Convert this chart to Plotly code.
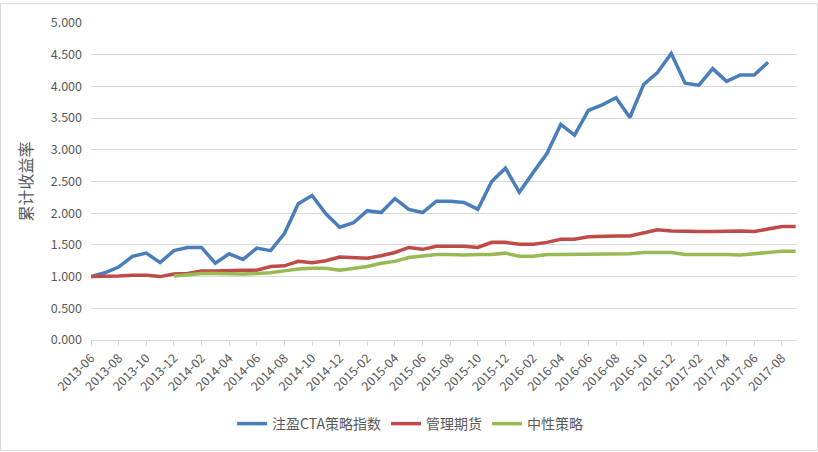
import plotly.graph_objects as go

# Monthly categories 2013-06 .. 2017-09
months = []
y, m = 2013, 6
while (y, m) <= (2017, 9):
    months.append(f"{y}-{m:02d}")
    m += 1
    if m > 12:
        m = 1
        y += 1

tick_labels = months[::2]

series_names = ["注盈CTA策略指数", "管理期货", "中性策略"]

cta_index = [1.00, 1.06, 1.15, 1.32, 1.37, 1.22, 1.41, 1.46, 1.46, 1.21,
             1.36, 1.27, 1.45, 1.41, 1.68, 2.15, 2.28, 1.99, 1.78, 1.85,
             2.04, 2.01, 2.23, 2.06, 2.01, 2.19, 2.19, 2.17, 2.06, 2.50,
             2.71, 2.33, 2.64, 2.94, 3.40, 3.23, 3.62, 3.71, 3.82, 3.51,
             4.03, 4.22, 4.52, 4.05, 4.02, 4.28, 4.08, 4.18, 4.18, 4.38,
             None, None]

managed_futures = [1.00, 1.00, 1.01, 1.02, 1.02, 1.00, 1.04, 1.05, 1.09, 1.09,
                   1.10, 1.10, 1.10, 1.16, 1.17, 1.24, 1.22, 1.25, 1.31, 1.30,
                   1.29, 1.33, 1.38, 1.46, 1.43, 1.48, 1.48, 1.48, 1.46, 1.54,
                   1.54, 1.51, 1.51, 1.54, 1.59, 1.59, 1.63, 1.64, 1.64, 1.64,
                   1.69, 1.74, 1.72, 1.71, 1.71, 1.71, 1.72, 1.72, 1.71, 1.75,
                   1.79, 1.79]

neutral = [None, None, None, None, None, None,
           1.01, 1.03, 1.05, 1.05, 1.04, 1.04, 1.05, 1.06, 1.09, 1.12,
           1.13, 1.13, 1.10, 1.13, 1.16, 1.21, 1.24, 1.30, 1.33, 1.35,
           1.35, 1.34, 1.35, 1.35, 1.37, 1.32, 1.32, 1.35, 1.35, 1.35,
           1.35, 1.36, 1.36, 1.36, 1.38, 1.38, 1.38, 1.35, 1.35, 1.36,
           1.35, 1.34, 1.36, 1.38, 1.40, 1.40]

colors = ["#4A7EBB", "#BE4B48", "#98B954"]

fig = go.Figure()
for name, vals, c in zip(series_names, [cta_index, managed_futures, neutral], colors):
    fig.add_trace(go.Scatter(x=months, y=vals, name=name, mode="lines",
                             line=dict(color=c, width=3.5), connectgaps=False))

font_family = "Noto Sans CJK SC, Noto Sans, sans-serif"

fig.update_layout(
    width=818, height=452,
    margin=dict(l=91, r=21, t=20, b=112),
    paper_bgcolor="white", plot_bgcolor="white",
    font=dict(family=font_family, size=12, color="#595959"),
    showlegend=True,
    legend=dict(orientation="h", x=0.452, xanchor="center", y=-0.265, yanchor="middle",
                font=dict(size=14, color="#595959"), traceorder="normal",
                itemwidth=30, tracegroupgap=0),
    xaxis=dict(type="category", categoryorder="array", categoryarray=months,
               range=[0, 51.1], tickmode="array", tickvals=tick_labels, ticktext=tick_labels,
               tickangle=-45, showgrid=False, showline=True, linecolor="#D9D9D9",
               linewidth=1, ticks="outside", ticklen=5, tickcolor="#D9D9D9",
               tickfont=dict(size=12.5, color="#595959"), zeroline=False),
    yaxis=dict(range=[0, 5], dtick=0.5, tick0=0, tickformat=".3f",
               showgrid=True, gridcolor="#D9D9D9", gridwidth=1, zeroline=False,
               showline=False, ticks="", tickfont=dict(size=12.5, color="#595959"),
               ticklabelstandoff=8,
               title=dict(text="累计收益率", font=dict(size=16, color="#595959"), standoff=14)),
    shapes=[dict(type="rect", xref="paper", yref="paper",
                 x0=(0.5 - 91) / 706, x1=(817.5 - 91) / 706,
                 y0=(340 - 451.5) / 320, y1=(340 - 0.5) / 320,
                 line=dict(color="#D9D9D9", width=1), fillcolor="rgba(0,0,0,0)", layer="below")],
)

fig.write_html("out.html")
